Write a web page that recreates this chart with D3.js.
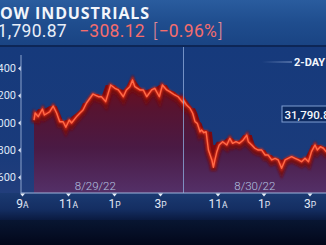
<!DOCTYPE html>
<html>
<head>
<meta charset="utf-8">
<script src="https://cdn.jsdelivr.net/npm/d3@7"></script>
<style>
  body { margin: 0; background: #030817; }
  svg { display: block; }
</style>
</head>
<body>
<svg id="chart" width="326" height="245"></svg>
<script>
// Dow two-day intraday readings (8/29/22 and 8/30/22)
const day1Times = ["9:30","9:33","9:41","9:52","9:57","10:11","10:20","10:29","10:37","10:46","10:53","11:02","11:08","11:21","11:30","11:38","11:47","12:04","12:18","12:26","12:37","12:50","13:01","13:10","13:23","13:31","13:40","13:47","13:53","14:06","14:15","14:24","14:37","14:45","14:57","15:05","15:16","15:24","15:37","15:46","16:00"];
const day1Values = [32018,32070,32043,32099,32055,32079,32121,32070,32006,32006,31965,32018,31996,32043,32070,32092,32143,32209,32189,32189,32153,32275,32251,32239,32189,32239,32263,32312,32263,32239,32239,32189,32239,32251,32189,32275,32239,32226,32202,32189,32140];
const day2Times = ["9:30","9:38","9:47","9:54","10:00","10:06","10:13","10:17","10:23","10:29","10:35","10:44","10:48","10:52","10:57","11:03","11:12","11:23","11:31","11:38","11:47","11:56","12:06","12:15","12:19","12:28","12:36","12:45","12:54","13:03","13:11","13:20","13:29","13:37","13:46","13:55","14:03","14:12","14:21","14:30","14:38","14:47","14:56","15:04","15:13","15:19","15:27","15:35","15:42","16:00"];
const day2Values = [32165,32128,32104,32068,32006,31994,31932,31945,31925,31932,31798,31725,31671,31725,31786,31835,31859,31835,31884,31847,31859,31847,31872,31908,31859,31835,31811,31798,31798,31761,31761,31725,31737,31725,31664,31725,31737,31749,31737,31725,31712,31737,31712,31786,31835,31798,31822,31811,31786,31790.87];

const yTicks = [31600, 31800, 32000, 32200, 32400];
const xTickDays = [1, 1, 1, 1, 2, 2, 2];
const xTickTimes = ["9:00", "11:00", "13:00", "15:00", "11:00", "13:00", "15:00"];
const xTickNums = ["9", "11", "1", "3", "11", "1", "3"];
const xTickSuffix = ["A", "A", "P", "P", "A", "P", "P"];
const dateLabels = ["8/29/22", "8/30/22"];
const dateLabelDays = [1, 2];
const dateLabelTimes = ["12:10", "12:36"];

const indexName = "DOW INDUSTRIALS";
const lastPrice = 31790.87;
const netChange = -308.12;
const pctChange = -0.96;

// trading-time position: day 1 minutes from 9:00, day 2 continues from 9:30 at day 1 close
function pos(day, t) {
    const [h, m] = t.split(":").map(Number);
    const mins = h * 60 + m;
    return day === 1 ? mins - 540 : 420 + (mins - 570);
}

const series = day1Times.map((t, i) => ({p: pos(1, t), v: day1Values[i]}))
    .concat(day2Times.map((t, i) => ({p: pos(2, t), v: day2Values[i]})));
series.forEach(d => {
    d.env = d3.max(series.filter(e => Math.abs(e.p - d.p) <= 15), e => e.v);
});

const svg = d3.select("#chart");
const W = 326, H = 245;
const plotTop = 47, plotBottom = 193, plotLeft = 21;

const x = d3.scaleLinear().domain([0, 810]).range([22.5, 22.5 + 810 * 23 / 60]);
const y = d3.scaleLinear().domain([31600, 32400]).range([177, 68]);

const defs = svg.append("defs");
function grad(id, stops, y1, y2) {
    const g = defs.append("linearGradient").attr("id", id)
        .attr("gradientUnits", "userSpaceOnUse")
        .attr("x1", 0).attr("x2", 0).attr("y1", y1).attr("y2", y2);
    stops.forEach(s => g.append("stop").attr("offset", s[0]).attr("stop-color", s[1]));
}
grad("hdr", [[0, "#2a5c9e"], [0.5, "#1f4d8e"], [1, "#1a4483"]], 0, 45);
grad("plotbg", [[0, "#163a7c"], [0.75, "#1a3b7b"], [1, "#223e7c"]], plotTop, plotBottom);
grad("axisband", [[0, "#1b3a72"], [0.6, "#142e62"], [1, "#0a1a40"]], plotBottom, 220);
grad("bottom", [[0, "#081632"], [1, "#02071a"]], 220, H);
grad("fill", [[0, "#700d1a"], [0.28, "#561432"], [0.6, "#4a1a44"], [1, "#543068"]], 80, plotBottom);

const glow = defs.append("filter").attr("id", "glow")
    .attr("x", "-10%").attr("y", "-30%").attr("width", "120%").attr("height", "160%");
glow.append("feGaussianBlur").attr("stdDeviation", 1.3);
const soft = defs.append("filter").attr("id", "soft");
soft.append("feGaussianBlur").attr("stdDeviation", 1);

defs.append("clipPath").attr("id", "plotclip")
    .append("rect").attr("x", plotLeft).attr("y", plotTop)
    .attr("width", W - plotLeft).attr("height", plotBottom - plotTop);

// backgrounds
svg.append("rect").attr("width", W).attr("height", 45).attr("fill", "url(#hdr)");
svg.append("rect").attr("y", 45).attr("width", W).attr("height", 2).attr("fill", "#0d2656");
svg.append("rect").attr("y", plotTop).attr("width", W).attr("height", plotBottom - plotTop).attr("fill", "url(#plotbg)");
svg.append("rect").attr("y", plotBottom).attr("width", W).attr("height", 220 - plotBottom).attr("fill", "url(#axisband)");
svg.append("rect").attr("y", 220).attr("width", W).attr("height", H - 220).attr("fill", "url(#bottom)");

const plot = svg.append("g").attr("clip-path", "url(#plotclip)");

const area = d3.area().x(d => x(d.p)).y0(plotBottom).y1(d => y(d.v));
plot.append("path").datum(series).attr("d", area).attr("fill", "url(#fill)");

const band = d3.area().x(d => x(d.p)).y0(d => y(d.v)).y1(d => y(d.env));
plot.append("path").datum(series).attr("d", band).attr("fill", "#7a0b12");

const line = d3.line().x(d => x(d.p)).y(d => y(d.v));
plot.append("path").datum(series).attr("d", line)
    .attr("fill", "none").attr("stroke", "#760a10").attr("stroke-width", 6)
    .attr("transform", "translate(0,3)").attr("filter", "url(#soft)").attr("opacity", 0.85);
plot.append("path").datum(series).attr("d", line)
    .attr("fill", "none").attr("stroke", "#ff3418").attr("stroke-width", 3)
    .attr("filter", "url(#glow)").attr("opacity", 0.75);
plot.append("path").datum(series).attr("d", line)
    .attr("fill", "none").attr("stroke", "#ff6a48").attr("stroke-width", 1.4)
    .attr("stroke-linejoin", "round");

// divider between days
svg.append("line")
    .attr("x1", x(420)).attr("x2", x(420)).attr("y1", plotTop).attr("y2", plotBottom)
    .attr("stroke", "#8aa7d8").attr("stroke-width", 1).attr("opacity", 0.8);

// y axis
const yAxis = svg.append("g").attr("transform", `translate(${plotLeft},0)`)
    .call(d3.axisLeft(y).tickValues(yTicks).tickFormat(d3.format(",")).tickSize(0).tickPadding(5));
yAxis.select(".domain").remove();
yAxis.selectAll("text").attr("fill", "#dfe7f6").attr("font-family", "Roboto, sans-serif").attr("font-size", 11);
yAxis.selectAll(".tick").append("path").attr("d", "M-3,0L0,-2.5L0,2.5Z").attr("fill", "#dfe7f6");
svg.append("line").attr("x1", plotLeft).attr("x2", plotLeft).attr("y1", plotTop + 8).attr("y2", plotBottom)
    .attr("stroke", "#8aa2cc").attr("stroke-width", 1);

// x axis
svg.append("line").attr("x1", plotLeft).attr("x2", W).attr("y1", plotBottom).attr("y2", plotBottom)
    .attr("stroke", "#9db4dc").attr("stroke-width", 1.2);
const xt = svg.append("g").selectAll("g").data(xTickTimes).join("g")
    .attr("transform", (t, i) => `translate(${x(pos(xTickDays[i], t))},${plotBottom})`);
xt.append("path").attr("d", "M-2.5,0.5L2.5,0.5L0,3.5Z").attr("fill", "#e6edf8");
const xl = xt.append("text").attr("y", 15).attr("text-anchor", "middle")
    .attr("fill", "#e3eaf7").attr("font-family", "Roboto, sans-serif");
xl.append("tspan").attr("font-size", 12).text((t, i) => xTickNums[i]);
xl.append("tspan").attr("font-size", 8.5).text((t, i) => xTickSuffix[i]);

// date labels
svg.append("g").selectAll("text").data(dateLabels).join("text")
    .attr("x", (d, i) => x(pos(dateLabelDays[i], dateLabelTimes[i])))
    .attr("y", 190).attr("text-anchor", "middle")
    .attr("fill", "#b4c2e0").attr("font-family", "Roboto, sans-serif").attr("font-weight", 300)
    .attr("font-size", 11.5).text(d => d);

// 2-DAY tag
const tagLine = defs.append("linearGradient").attr("id", "tagline");
tagLine.append("stop").attr("offset", 0).attr("stop-color", "#9db4dc").attr("stop-opacity", 0);
tagLine.append("stop").attr("offset", 1).attr("stop-color", "#9db4dc").attr("stop-opacity", 0.8);
svg.append("rect").attr("x", 262).attr("y", 61.5).attr("width", 30).attr("height", 1).attr("fill", "url(#tagline)");
svg.append("text").attr("x", 294).attr("y", 66).attr("fill", "#f2f6fc")
    .attr("font-family", "Roboto, sans-serif").attr("font-weight", 700).attr("font-size", 11)
    .text("2-DAY");

// last price box
svg.append("rect").attr("x", 282).attr("y", 106).attr("width", 60).attr("height", 16)
    .attr("fill", "#0d2a60").attr("stroke", "#7f9dd2").attr("stroke-width", 1);
svg.append("text").attr("x", 284.5).attr("y", 119).attr("fill", "#f4f7fc")
    .attr("font-family", "Roboto, sans-serif").attr("font-weight", 500).attr("font-size", 11.5)
    .text(d3.format(",.2f")(lastPrice));

// header
svg.append("text").attr("x", 150).attr("y", 18.5).attr("text-anchor", "end")
    .attr("fill", "#f2f5fb").attr("font-family", "'Open Sans', sans-serif").attr("font-weight", 700)
    .attr("font-size", 16).attr("letter-spacing", 0.9).text(indexName);
svg.append("text").attr("x", 67).attr("y", 37).attr("text-anchor", "end")
    .attr("fill", "#e8eef8").attr("font-family", "Roboto, sans-serif").attr("font-size", 17.5)
    .attr("letter-spacing", 0.3)
    .text(d3.format(",.2f")(lastPrice));
const chg = svg.append("text").attr("x", 79).attr("y", 37)
    .attr("fill", "#f46d6d").attr("font-family", "Roboto, sans-serif").attr("font-size", 17.5)
    .attr("letter-spacing", 0.3);
chg.append("tspan").text(d3.format(".2f")(netChange));
chg.append("tspan").attr("dx", 8).attr("font-weight", 300).attr("fill", "#e58a95").text("[");
chg.append("tspan").attr("dx", 1).text(d3.format(".2f")(pctChange) + "%");
chg.append("tspan").attr("dx", 1).attr("font-weight", 300).attr("fill", "#e58a95").text("]");
</script>
</body>
</html>
